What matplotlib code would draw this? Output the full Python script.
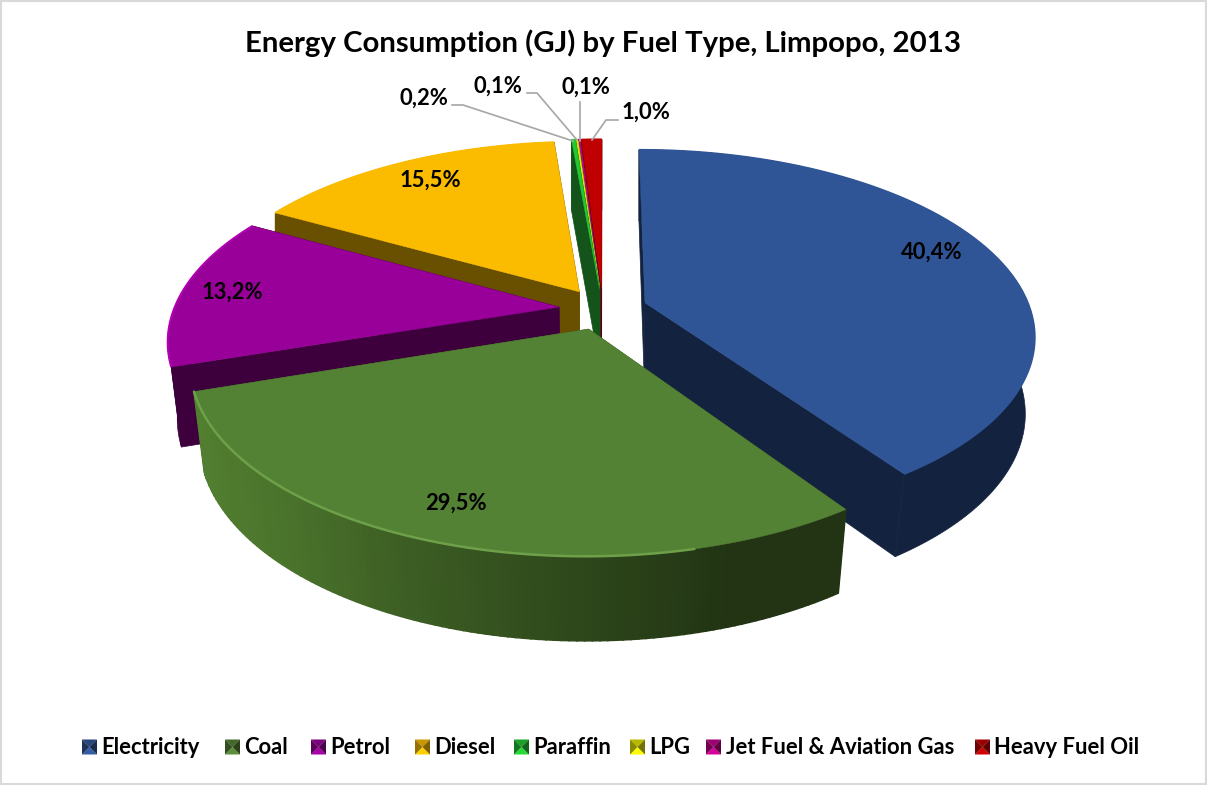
import numpy as np
import matplotlib
matplotlib.use('Agg')
import matplotlib.pyplot as plt
from matplotlib.colors import to_rgb
from matplotlib.patches import Rectangle

title = 'Energy Consumption (GJ) by Fuel Type, Limpopo, 2013'
fuels = ['Electricity', 'Coal', 'Petrol', 'Diesel', 'Paraffin', 'LPG', 'Jet Fuel & Aviation Gas', 'Heavy Fuel Oil']
shares = [40.4, 29.5, 13.2, 15.5, 0.2, 0.1, 0.1, 1.0]
top_colors = ['#2F5597', '#548235', '#990099', '#FBBC00', '#22C832', '#E6E600', '#C4008C', '#C00000']
wall_colors = ['#13233F', '#3A5A22', '#3D003D', '#695000', '#14541A', '#14541A', '#5A0040', '#600000']
rim_colors = ['#2F5597', '#6EA04A', '#B400B4', '#FBBC00', '#22C832', '#E6E600', '#C4008C', '#C00000']

# label placement and legend layout, in pixels
label_xy = [(932, 252), (456, 503), (232, 292), (430, 180), (424, 98), (498, 86), (586, 87), (646, 112)]
leaders = [None, None, None, None,
           [(452, 105), (463, 105), (573, 141)],
           [(527, 93), (537, 93), (577, 140)],
           [(580, 102), (580, 141)],
           [(618, 120), (606, 120), (592, 140)]]
legend_x = [82, 225, 311, 415, 514, 630, 706, 975]

W, H = 1207, 785
CX, CY = 603, 309
R, TILT, PERSP, EXPLODE = 385, 0.47, 0.17, 0.115


def project(x, y):
    s = 1 / (1 + PERSP * y)
    return CX + R * x * s, CY - R * TILT * y * s


def lower(x, y):
    # same point on the underside of the pie
    px, py = project(x, y)
    drop = np.interp(y, [-1.2, -0.3, 1.2], [85, 80, 70])
    shrink = np.interp(y, [-1, 0, 0.5], [0.968, 0.98, 1.0])
    return CX + (px - CX) * shrink, py + drop


def darker(col, f):
    return tuple(min(c * f, 1) for c in to_rgb(col))


fig = plt.figure(figsize=(W / 100, H / 100), dpi=100)
ax = fig.add_axes([0, 0, 1, 1])
ax.set_xlim(0, W)
ax.set_ylim(H, 0)
ax.axis('off')

plt.rcParams['font.family'] = ['Lato', 'DejaVu Sans']

edges = np.radians(np.concatenate([[0], np.cumsum(shares)]) * 3.6)

# back to front so the coal slice ends up on top
for i in [7, 6, 5, 4, 3, 2, 0, 1]:
    a0, a1 = edges[i], edges[i + 1]
    mid = (a0 + a1) / 2
    ox, oy = EXPLODE * np.sin(mid), EXPLODE * np.cos(mid)
    t = np.linspace(a0, a1, max(int((a1 - a0) * 60), 3))
    xs, ys = ox + np.sin(t), oy + np.cos(t)

    # cut faces
    for a in (a0, a1):
        ex, ey = ox + np.sin(a), oy + np.cos(a)
        corners = [project(ox, oy), project(ex, ey), lower(ex, ey), lower(ox, oy)]
        ax.fill(*zip(*corners), color=wall_colors[i], lw=0.5)

    # outer wall, coal gets a horizontal shading so it is cut in strips
    lx, ly = lower(xs, ys)
    px, py = project(xs, ys)
    if i == 1:
        for j in range(len(t) - 1):
            f = np.interp(px[j], [200, 300, 400, 560, 733, 840], [1.4, 1.25, 1.05, 0.82, 0.58, 0.58])
            ax.fill([px[j], px[j + 1], lx[j + 1], lx[j]], [py[j], py[j + 1], ly[j + 1], ly[j]],
                    color=darker(wall_colors[i], f), lw=1.2)
    else:
        ax.fill(np.r_[px, lx[::-1]], np.r_[py, ly[::-1]], color=wall_colors[i], lw=0.5)

    # top surface
    ax_x, ax_y = project(ox, oy)
    ax.fill(np.r_[ax_x, px], np.r_[ax_y, py], color=top_colors[i], lw=0.3)

    # lighter rim, on coal it fades out towards the right
    if i == 1:
        keep = px < 700
        ax.plot(px[keep], py[keep], color=rim_colors[i], lw=1.8, solid_capstyle='round')
    else:
        ax.plot(px, py, color=rim_colors[i], lw=1.4, solid_capstyle='butt')

ax.text(603, 43, title, ha='center', va='center', fontsize=21.2, fontweight='bold', color='black')

for share, (lx, ly), leader in zip(shares, label_xy, leaders):
    ax.text(lx, ly, f'{share:.1f}%'.replace('.', ','), ha='center', va='center',
            fontsize=15.8, fontweight='bold', color='black', zorder=5)
    if leader:
        ax.plot(*zip(*leader), color='#A6A6A6', lw=1.2, zorder=4)

# legend with bevelled keys
LY = 747
for name, col, x in zip(fuels, top_colors, legend_x):
    s = 15
    x0, x1, y0, y1 = x, x + s, LY - s / 2, LY + s / 2
    cx, cy = x + s / 2, LY
    ax.fill([x0, x1, cx], [y0, y0, cy], color=darker(col, 0.8), lw=0)
    ax.fill([x0, x1, cx], [y1, y1, cy], color=darker(col, 1.1), lw=0)
    ax.fill([x0, x0, cx], [y0, y1, cy], color=darker(col, 0.6), lw=0)
    ax.fill([x1, x1, cx], [y0, y1, cy], color=darker(col, 0.5), lw=0)
    ax.text(x + 19.5, LY, name, ha='left', va='center', fontsize=15.8, fontweight='bold', color='black')

# thin chart border
ax.add_patch(Rectangle((0.5, 0.5), W - 1.5, H - 1.5, fill=False, edgecolor='#D9D9D9', lw=1.5))

fig.savefig('out.png', dpi=100, facecolor='white')
